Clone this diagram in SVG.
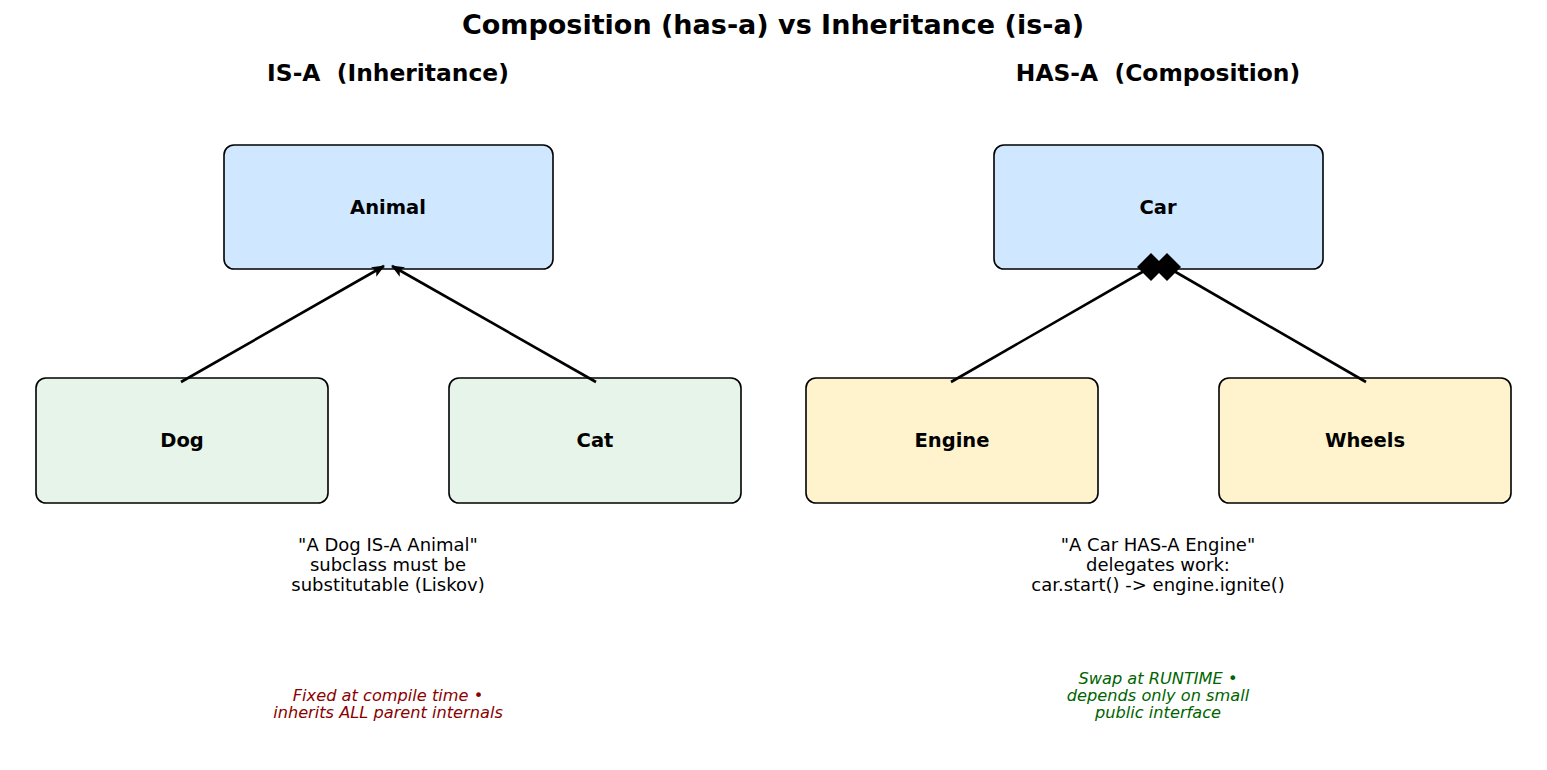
<svg xmlns="http://www.w3.org/2000/svg" width="1547" height="770" viewBox="0 0 1547 770">
<style>
text{font-family:"DejaVu Sans","Liberation Sans",sans-serif;text-anchor:middle;dominant-baseline:central;white-space:pre}
.title{font-size:27px;font-weight:bold}
.sub{font-size:23.4px;font-weight:bold}
.lbl{font-size:19.5px;font-weight:bold}
.desc{font-size:18px}
.note{font-size:16.2px;font-style:italic}
.box{stroke:#000;stroke-width:1.6}
.base{fill:#cfe8ff}.sub1{fill:#e6f4ea}.part{fill:#fff3cd}
.conn{stroke:#000;stroke-width:2.6;fill:none}
</style>
<defs>
<marker id="tri" viewBox="0 0 13 11" refX="12" refY="5.5" markerWidth="13" markerHeight="11" markerUnits="userSpaceOnUse" orient="auto">
<path d="M0,0 L13,5.5 L0,11 L3,5.5 Z" fill="#000"/>
</marker>
</defs>
<rect width="1547" height="770" fill="#fff"/>
<text class="title" x="773" y="24">Composition (has-a) vs Inheritance (is-a)</text>
<text class="sub" x="388" y="73" xml:space="preserve">IS-A  (Inheritance)</text>
<text class="sub" x="1158" y="73" xml:space="preserve">HAS-A  (Composition)</text>

<g id="node-animal"><rect class="box base" x="224" y="145" width="329" height="124" rx="10"/><text class="lbl" x="388" y="207">Animal</text></g>
<g id="node-dog"><rect class="box sub1" x="36" y="378" width="292" height="125" rx="10"/><text class="lbl" x="182" y="440">Dog</text></g>
<g id="node-cat"><rect class="box sub1" x="449" y="378" width="292" height="125" rx="10"/><text class="lbl" x="595" y="440">Cat</text></g>
<g id="node-car"><rect class="box base" x="994" y="145" width="329" height="124" rx="10"/><text class="lbl" x="1158" y="207">Car</text></g>
<g id="node-engine"><rect class="box part" x="806" y="378" width="292" height="125" rx="10"/><text class="lbl" x="952" y="440">Engine</text></g>
<g id="node-wheels"><rect class="box part" x="1219" y="378" width="292" height="125" rx="10"/><text class="lbl" x="1365" y="440">Wheels</text></g>

<g id="connectors">
<line class="conn" x1="181" y1="382" x2="384" y2="266" marker-end="url(#tri)"/>
<line class="conn" x1="596" y1="382" x2="392" y2="266" marker-end="url(#tri)"/>
<line class="conn" x1="951" y1="382" x2="1151" y2="267"/>
<line class="conn" x1="1366" y1="382" x2="1167" y2="267"/>
<path d="M1151,253 L1165,267 L1151,281 L1137,267 Z" fill="#000"/>
<path d="M1167,253 L1181,267 L1167,281 L1153,267 Z" fill="#000"/>
</g>

<g id="desc-left">
<text class="desc" x="388" y="544">"A Dog IS-A Animal"</text>
<text class="desc" x="388" y="564">subclass must be</text>
<text class="desc" x="388" y="584">substitutable (Liskov)</text>
</g>
<g id="desc-right">
<text class="desc" x="1158" y="544">"A Car HAS-A Engine"</text>
<text class="desc" x="1158" y="564">delegates work:</text>
<text class="desc" x="1158" y="584">car.start() -&gt; engine.ignite()</text>
</g>
<g id="note-left" fill="#8b0000">
<text class="note" x="388" y="695">Fixed at compile time •</text>
<text class="note" x="388" y="712">inherits ALL parent internals</text>
</g>
<g id="note-right" fill="#006400">
<text class="note" x="1158" y="678">Swap at RUNTIME •</text>
<text class="note" x="1158" y="695">depends only on small</text>
<text class="note" x="1158" y="712">public interface</text>
</g>
</svg>
